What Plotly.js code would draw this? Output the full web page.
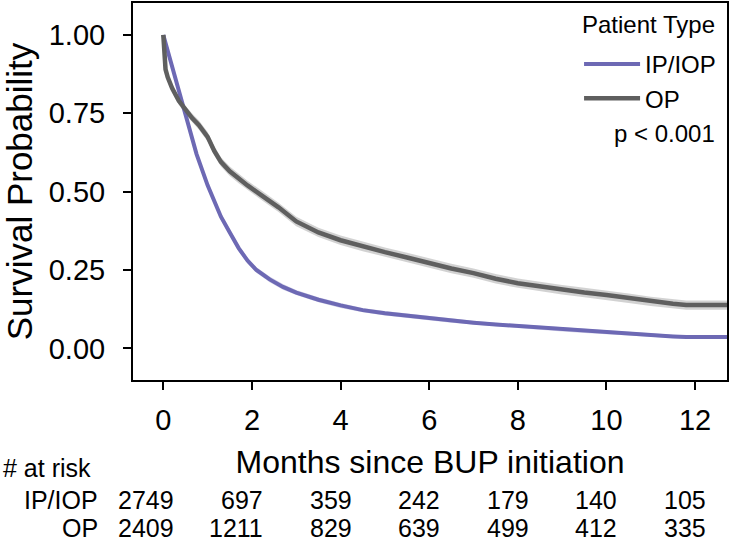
<!DOCTYPE html>
<html>
<head>
<meta charset="utf-8">
<script src="https://cdn.plot.ly/plotly-3.0.1.min.js"></script>
<style>html,body{margin:0;padding:0;background:#fff;}#chart{width:734px;height:541px;}</style>
</head>
<body>
<div id="chart"></div>
<script>
// ---- data ----
const groupNames = ["IP/IOP", "OP"];
const legendTitle = "Patient Type";
const ipTime = [0, 0.1, 0.2, 0.3, 0.45, 0.6, 0.75, 0.9, 1.0, 1.15, 1.3, 1.5, 1.7, 1.9, 2.1, 2.4, 2.7, 3.0, 3.5, 4.0, 4.5, 5, 5.5, 6, 6.5, 7, 7.5, 8, 8.5, 9, 9.5, 10, 10.5, 11, 11.5, 11.8, 12.8];
const ipSurv = [1.0, 0.95, 0.90, 0.85, 0.77, 0.69, 0.62, 0.56, 0.52, 0.47, 0.42, 0.37, 0.32, 0.28, 0.25, 0.22, 0.196, 0.178, 0.155, 0.137, 0.122, 0.112, 0.104, 0.096, 0.089, 0.082, 0.076, 0.071, 0.066, 0.060, 0.055, 0.050, 0.046, 0.042, 0.038, 0.036, 0.036];
const ipCiHalf = [0, 0.004, 0.006, 0.007, 0.008, 0.009, 0.009, 0.010, 0.010, 0.010, 0.010, 0.010, 0.010, 0.010, 0.009, 0.009, 0.009, 0.008, 0.008, 0.008, 0.007, 0.007, 0.007, 0.007, 0.007, 0.006, 0.006, 0.006, 0.006, 0.006, 0.006, 0.006, 0.005, 0.005, 0.005, 0.005, 0.005];
const opTime = [0, 0.02, 0.05, 0.1, 0.2, 0.35, 0.5, 0.65, 0.8, 1.0, 1.15, 1.3, 1.5, 1.7, 1.9, 2.2, 2.6, 3.0, 3.5, 4.0, 4.5, 5, 5.5, 6, 6.5, 7, 7.5, 8, 8.5, 9, 9.5, 10, 10.5, 11, 11.5, 11.8, 12.8];
const opSurv = [1.0, 0.93, 0.89, 0.865, 0.83, 0.79, 0.76, 0.735, 0.713, 0.675, 0.63, 0.595, 0.565, 0.542, 0.52, 0.49, 0.45, 0.405, 0.37, 0.345, 0.325, 0.307, 0.29, 0.272, 0.255, 0.24, 0.222, 0.208, 0.197, 0.187, 0.178, 0.170, 0.160, 0.150, 0.142, 0.138, 0.138];
const opCiHalf = [0, 0.008, 0.010, 0.011, 0.012, 0.013, 0.014, 0.014, 0.015, 0.015, 0.015, 0.015, 0.015, 0.015, 0.015, 0.015, 0.015, 0.015, 0.015, 0.015, 0.015, 0.015, 0.015, 0.015, 0.015, 0.015, 0.015, 0.015, 0.015, 0.015, 0.015, 0.015, 0.015, 0.015, 0.015, 0.015, 0.015];
const riskTimes = [0, 2, 4, 6, 8, 10, 12];
const ipAtRisk = [2749, 697, 359, 242, 179, 140, 105];
const opAtRisk = [2409, 1211, 829, 639, 499, 412, 335];
const xTicks = [0, 2, 4, 6, 8, 10, 12];
const yTicks = [0, 0.25, 0.5, 0.75, 1.0];
const yTickText = ["0.00", "0.25", "0.50", "0.75", "1.00"];
const pValueText = "p < 0.001";

// ---- styling ----
const FONT = "Liberation Sans, Arial, sans-serif";
const ipColor = "#6d69b4";
const opColor = "#5f5f5f";

function band(t, s, h, fill) {
  const up = s.map((v, i) => v + h[i]);
  const lo = s.map((v, i) => v - h[i]);
  return [
    {x: t, y: lo, mode: "lines", line: {width: 0, color: fill}, showlegend: false, hoverinfo: "skip"},
    {x: t, y: up, mode: "lines", line: {width: 0, color: fill}, fill: "tonexty", fillcolor: fill, showlegend: false, hoverinfo: "skip"}
  ];
}

const traces = [
  ...band(ipTime, ipSurv, ipCiHalf, "rgba(109,105,180,0.28)"),
  ...band(opTime, opSurv, opCiHalf, "rgba(95,95,95,0.28)"),
  {x: ipTime, y: ipSurv, mode: "lines", name: groupNames[0], line: {color: ipColor, width: 4}},
  {x: opTime, y: opSurv, mode: "lines", name: groupNames[1], line: {color: opColor, width: 4.5}}
];

const annotations = [];
const rowY = [-0.318, -0.393];
const rows = [ipAtRisk, opAtRisk];
annotations.push({xref: "paper", yref: "paper", x: -0.222, y: -0.233, xanchor: "left", yanchor: "middle",
  text: "# at risk", showarrow: false, font: {family: FONT, size: 25, color: "#000"}});
rows.forEach((r, k) => {
  annotations.push({xref: "paper", yref: "paper", x: -0.055, y: rowY[k], xanchor: "right", yanchor: "middle",
    text: groupNames[k], showarrow: false, font: {family: FONT, size: 25, color: "#000"}});
  r.forEach((v, i) => {
    annotations.push({xref: "x", yref: "paper", x: riskTimes[i], y: rowY[k], xanchor: "right", yanchor: "middle",
      xshift: 13, text: String(v), showarrow: false, font: {family: FONT, size: 25, color: "#000"}});
  });
});
annotations.push({xref: "paper", yref: "paper", x: 0.983, y: 0.944, xanchor: "right", yanchor: "middle",
  text: legendTitle, showarrow: false, font: {family: FONT, size: 24, color: "#000"}});
annotations.push({xref: "paper", yref: "paper", x: 0.983, y: 0.655, xanchor: "right", yanchor: "middle",
  text: pValueText, showarrow: false, font: {family: FONT, size: 24, color: "#000"}});

const layout = {
  width: 734, height: 541,
  margin: {l: 133, r: 7, t: 3, b: 161},
  paper_bgcolor: "#fff", plot_bgcolor: "#fff",
  font: {family: FONT, color: "#000"},
  showlegend: true,
  legend: {
    x: 0.99, xanchor: "right", y: 0.897, yanchor: "top",
    traceorder: "normal",
    bgcolor: "rgba(0,0,0,0)", borderwidth: 0,
    font: {family: FONT, size: 24, color: "#000"},
    itemwidth: 56
  },
  xaxis: {
    range: [-0.684, 12.72], tickvals: xTicks, ticktext: xTicks.map(String),
    showgrid: false, zeroline: false, showline: true, mirror: true, linecolor: "#000", linewidth: 2,
    ticks: "outside", ticklen: 8, tickwidth: 2, tickcolor: "#000", ticklabelstandoff: 5,
    tickfont: {family: FONT, size: 29, color: "#000"},
    title: {text: "Months since BUP initiation", font: {family: FONT, size: 32, color: "#000"}, standoff: 16}
  },
  yaxis: {
    range: [-0.101, 1.102], tickvals: yTicks, ticktext: yTickText,
    showgrid: false, zeroline: false, showline: true, mirror: true, linecolor: "#000", linewidth: 2,
    ticks: "outside", ticklen: 8, tickwidth: 2, tickcolor: "#000", ticklabelstandoff: 12,
    tickfont: {family: FONT, size: 29, color: "#000"},
    title: {text: "Survival Probability", font: {family: FONT, size: 35, color: "#000"}, standoff: 10}
  },
  annotations: annotations
};

Plotly.newPlot("chart", traces, layout, {displayModeBar: false, staticPlot: true});
</script>
</body>
</html>
